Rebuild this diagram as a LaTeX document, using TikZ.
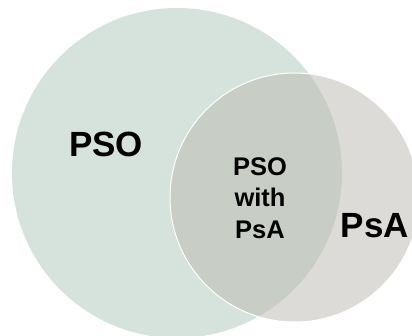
\documentclass[tikz,border=0pt]{standalone}
\usepackage{fontspec}
\setmainfont{Liberation Sans}
\definecolor{psogreen}{RGB}{213,227,220}
\definecolor{psagray}{RGB}{189,185,177}
\tikzset{
  lbl/.style={font=\bfseries, text=black, inner sep=0pt, anchor=base},
}
\begin{document}
\begin{tikzpicture}[x=1pt,y=1pt]
\useasboundingbox (0,0) rectangle (412,335);
\clip (0,0) rectangle (412,335);
\fill[white] (0,0) rectangle (412,335);
\fill[psogreen] (177,162) circle (165);
\fill[psagray, fill opacity=0.5] (294.5,137.5) circle (124.5);
\draw[white, line width=1pt] (294.5,137.5) circle (124.5);
\node[lbl, font=\bfseries\fontsize{35}{40}\selectfont] (pso) at (106,178) {PSO};
\node[lbl, font=\bfseries\fontsize{35}{40}\selectfont] (psa) at (375,98) {PsA};
\node[lbl, font=\bfseries\fontsize{25.5}{31.7}\selectfont, align=center, anchor=center] (both) at (260,137) {PSO\\with\\PsA};
\end{tikzpicture}
\end{document}
